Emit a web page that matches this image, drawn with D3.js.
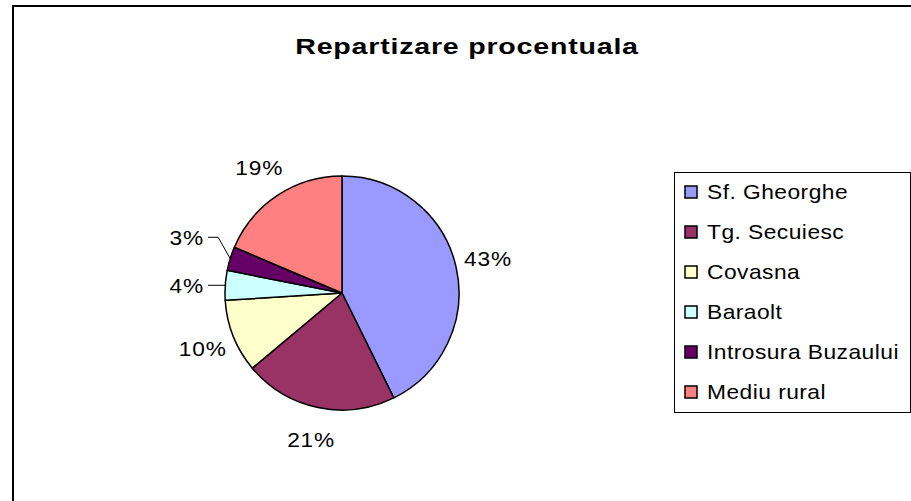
<!DOCTYPE html>
<html>
<head>
<meta charset="utf-8">
<script src="https://cdn.jsdelivr.net/npm/d3@7"></script>
<style>
  body { margin: 0; background: #fff; }
  text { font-family: "Liberation Sans", Arial, sans-serif; fill: #000; }
</style>
</head>
<body>
<div id="chart"></div>
<script>
// data
const categories = ['Sf. Gheorghe', 'Tg. Secuiesc', 'Covasna', 'Baraolt', 'Introsura Buzaului', 'Mediu rural'];
const values = [42.7, 21.2, 10.1, 4.1, 3.3, 18.6];
const colors = ['#9999FF', '#993366', '#FFFFCC', '#CCFFFF', '#660066', '#FF8080'];

const w = 911;
const h = 501;
const cx = 342;
const cy = 293;
const radius = 117;
const labelRadius = 150;

const svg = d3.select('#chart')
              .append('svg')
              .attr('width', w)
              .attr('height', h);

// outer frame (cut off on the right and bottom)
svg.append('rect')
   .attr('x', 13)
   .attr('y', 6)
   .attr('width', 1000)
   .attr('height', 1000)
   .attr('fill', 'none')
   .attr('stroke', '#000')
   .attr('stroke-width', 2);

// title (the original text is drawn wide, so stretch it)
svg.append('text')
   .attr('transform', 'translate(467, 54) scale(1.3, 1)')
   .attr('text-anchor', 'middle')
   .style('font-size', '22px')
   .style('font-weight', 'bold')
   .style('letter-spacing', '0.6px')
   .text('Repartizare procentuala');

const total = d3.sum(values);
const pie = d3.pie().sort(null).value(d => d);
const arcs = pie(values);
const arc = d3.arc().innerRadius(0).outerRadius(radius);

const g = svg.append('g').attr('transform', `translate(${cx}, ${cy})`);

g.selectAll('path')
 .data(arcs)
 .enter()
 .append('path')
 .attr('d', arc)
 .attr('fill', (d, i) => colors[i])
 .attr('stroke', '#000')
 .attr('stroke-width', 1.5)
 .attr('stroke-linejoin', 'round');

//Labels
function polar(angle, r) {
  return [Math.sin(angle) * r, -Math.cos(angle) * r];
}

function pctLabel(sel, x, y, anchor, txt) {
  sel.append('text')
     .attr('transform', `translate(${x}, ${y}) scale(1.08, 1)`)
     .attr('dy', '0.35em')
     .attr('text-anchor', anchor)
     .style('font-size', '21px')
     .style('letter-spacing', '0.8px')
     .text(txt);
}

let prevSmallY = Infinity;
arcs.forEach(d => {
  const mid = (d.startAngle + d.endAngle) / 2;
  const pct = Math.round(d.value / total * 100) + '%';
  if (d.value / total >= 0.05) {
    const p = polar(mid, labelRadius);
    pctLabel(g, p[0], p[1], 'middle', pct);
  } else {
    // small slices: leader line, pushed apart so they don't collide
    const p = polar(mid, radius);
    let y = p[1];
    if (prevSmallY !== Infinity && y > prevSmallY - 48) y = prevSmallY - 48;
    prevSmallY = y;
    const elbow = y === p[1] ? p : [p[0] - 12, y];
    const endX = -134;
    g.append('polyline')
     .attr('points', [p, elbow, [endX, y]].map(q => q.join(',')).join(' '))
     .attr('fill', 'none')
     .attr('stroke', '#000')
     .attr('stroke-width', 1);
    pctLabel(g, endX - 4, y, 'end', pct);
  }
});

//Legend
const legend = svg.append('g');
legend.append('rect')
      .attr('x', 674.5)
      .attr('y', 172.5)
      .attr('width', 236)
      .attr('height', 240)
      .attr('fill', '#fff')
      .attr('stroke', '#000')
      .attr('stroke-width', 1);

const rowY = d3.scalePoint()
               .domain(categories)
               .range([192, 392]);

const rows = legend.selectAll('g.row')
                   .data(categories)
                   .enter()
                   .append('g')
                   .attr('class', 'row')
                   .attr('transform', d => `translate(0, ${rowY(d)})`);

rows.append('rect')
    .attr('x', 685)
    .attr('y', -6)
    .attr('width', 12)
    .attr('height', 12)
    .attr('fill', (d, i) => colors[i])
    .attr('stroke', '#000')
    .attr('stroke-width', 1.5);

rows.append('text')
    .attr('transform', 'translate(707, 0) scale(1.14, 1)')
    .attr('dy', '0.35em')
    .style('font-size', '20px')
    .style('letter-spacing', '0.4px')
    .text(d => d);
</script>
</body>
</html>
